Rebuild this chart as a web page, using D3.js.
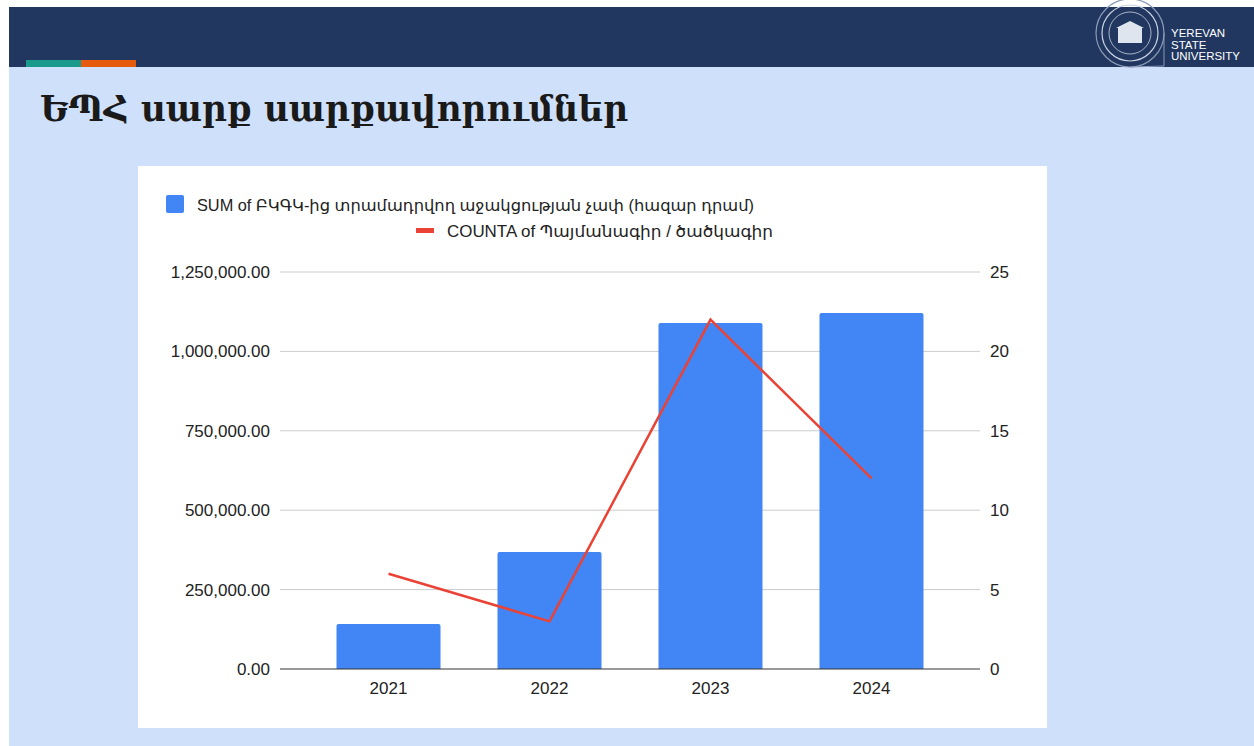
<!DOCTYPE html>
<html>
<head>
<meta charset="utf-8">
<script src="https://cdn.jsdelivr.net/npm/d3@7"></script>
<style>
  body { margin: 0; background: #fff; }
  svg { display: block; }
</style>
</head>
<body>
<script>
var years = ["2021", "2022", "2023", "2024"];
var sumValues = [141700, 368400, 1089400, 1120900];
var countValues = [6, 3, 22, 12];
var leftTicks = [0, 250000, 500000, 750000, 1000000, 1250000];
var rightTicks = [0, 5, 10, 15, 20, 25];
var titleText = "ԵՊՀ սարք սարքավորումներ";
var legendBar = "SUM of ԲԿԳԿ-ից տրամադրվող աջակցության չափ (հազար դրամ)";
var legendLine = "COUNTA of Պայմանագիր / ծածկագիր";
var logoLines = ["YEREVAN", "STATE", "UNIVERSITY"];

var width = 1254, height = 746;

var svg = d3.select("body").append("svg")
    .attr("width", width)
    .attr("height", height);

// slide background
svg.append("rect").attr("x", 9).attr("y", 7).attr("width", width - 9).attr("height", height - 7)
  .attr("fill", "#cfe0fb");
svg.append("rect").attr("x", 9).attr("y", 7).attr("width", width - 9).attr("height", 60)
  .attr("fill", "#21375f");
svg.append("rect").attr("x", 26).attr("y", 60).attr("width", 55).attr("height", 7).attr("fill", "#1a9a8a");
svg.append("rect").attr("x", 81).attr("y", 60).attr("width", 55).attr("height", 7).attr("fill", "#e55a0c");

// logo
var logo = svg.append("g").attr("transform", "translate(1130,33)");
logo.append("circle").attr("r", 34).attr("fill", "none").attr("stroke", "#8b9bb8").attr("stroke-width", 1.2);
logo.append("circle").attr("r", 28).attr("fill", "none").attr("stroke", "#c9d2e2").attr("stroke-width", 1.2);
logo.append("circle").attr("r", 21).attr("fill", "none").attr("stroke", "#c9d2e2").attr("stroke-width", 0.8);
logo.append("rect").attr("x", -12).attr("y", -5).attr("width", 24).attr("height", 15).attr("fill", "#dfe5ef");
logo.append("path").attr("d", "M-14,-5 L0,-12 L14,-5 Z").attr("fill", "#dfe5ef");
logo.append("path").attr("d", "M34,0 L34,33 L0,34").attr("fill", "none").attr("stroke", "#8b9bb8");
var logoText = svg.append("text").attr("x", 1171).attr("y", 37)
  .attr("font-family", "Liberation Sans, Arial, sans-serif").attr("font-size", 11.5).attr("fill", "#fff");
logoLines.forEach(function(t, i){
  logoText.append("tspan").attr("x", 1171).attr("dy", i === 0 ? 0 : 11.5).text(t);
});

// title
svg.append("text").attr("x", 40).attr("y", 121)
  .attr("font-family", "DejaVu Serif, serif").attr("font-weight", "bold").attr("font-size", 34.5)
  .attr("textLength", 588).attr("lengthAdjust", "spacingAndGlyphs")
  .attr("fill", "#1a1a1a").text(titleText);

// chart panel
svg.append("rect").attr("x", 138).attr("y", 166).attr("width", 909).attr("height", 562).attr("fill", "#fff");

var font = "Liberation Sans, Arial, DejaVu Sans, sans-serif";

var x = d3.scaleBand().domain(years).range([280, 980]).paddingInner(0.354).paddingOuter(0.351);
var yL = d3.scaleLinear().domain([0, 1250000]).range([669, 272]);
var yR = d3.scaleLinear().domain([0, 25]).range([669, 272]);

// gridlines
svg.append("g").selectAll("line").data(leftTicks.slice(1)).enter().append("line")
  .attr("x1", 280).attr("x2", 980)
  .attr("y1", function(d){ return yL(d); }).attr("y2", function(d){ return yL(d); })
  .attr("stroke", "#cccccc").attr("stroke-width", 1);

// bars
svg.append("g").selectAll("path").data(sumValues).enter().append("path")
  .attr("d", function(d, i){
    var x0 = x(years[i]), w = x.bandwidth(), y0 = yL(d), y1 = yL(0), r = 2;
    return "M" + x0 + "," + y1 + "L" + x0 + "," + (y0 + r) + "Q" + x0 + "," + y0 + " " + (x0 + r) + "," + y0 +
      "L" + (x0 + w - r) + "," + y0 + "Q" + (x0 + w) + "," + y0 + " " + (x0 + w) + "," + (y0 + r) +
      "L" + (x0 + w) + "," + y1 + "Z";
  })
  .attr("fill", "#4285f4");

// baseline
svg.append("line").attr("x1", 280).attr("x2", 980).attr("y1", yL(0)).attr("y2", yL(0))
  .attr("stroke", "#333").attr("stroke-width", 1);

// line series
var line = d3.line()
  .x(function(d, i){ return x(years[i]) + x.bandwidth() / 2; })
  .y(function(d){ return yR(d); });
svg.append("path").datum(countValues).attr("d", line)
  .attr("fill", "none").attr("stroke", "#ea4335").attr("stroke-width", 2.5).attr("stroke-linejoin", "miter");

// axes
var leftAxis = svg.append("g").attr("transform", "translate(280,0)")
  .call(d3.axisLeft(yL).tickValues(leftTicks).tickFormat(d3.format(",.2f")).tickSize(0).tickPadding(10));
var rightAxis = svg.append("g").attr("transform", "translate(980,0)")
  .call(d3.axisRight(yR).tickValues(rightTicks).tickSize(0).tickPadding(10));
var bottomAxis = svg.append("g").attr("transform", "translate(0,669)")
  .call(d3.axisBottom(x).tickSize(0).tickPadding(13));
[leftAxis, rightAxis, bottomAxis].forEach(function(a){
  a.select(".domain").remove();
  a.selectAll("text").attr("font-family", font).attr("font-size", 17).attr("fill", "#222");
});

// legend
svg.append("rect").attr("x", 166).attr("y", 195).attr("width", 18).attr("height", 18).attr("rx", 2)
  .attr("fill", "#4285f4");
svg.append("text").attr("x", 197).attr("y", 211).attr("font-family", font).attr("font-size", 16.5)
  .attr("textLength", 557).attr("lengthAdjust", "spacingAndGlyphs")
  .attr("fill", "#222").text(legendBar);
svg.append("rect").attr("x", 416).attr("y", 228).attr("width", 18).attr("height", 5).attr("fill", "#ea4335");
svg.append("text").attr("x", 447).attr("y", 237).attr("font-family", font).attr("font-size", 16.5)
  .attr("textLength", 326).attr("lengthAdjust", "spacingAndGlyphs")
  .attr("fill", "#222").text(legendLine);
</script>
</body>
</html>
